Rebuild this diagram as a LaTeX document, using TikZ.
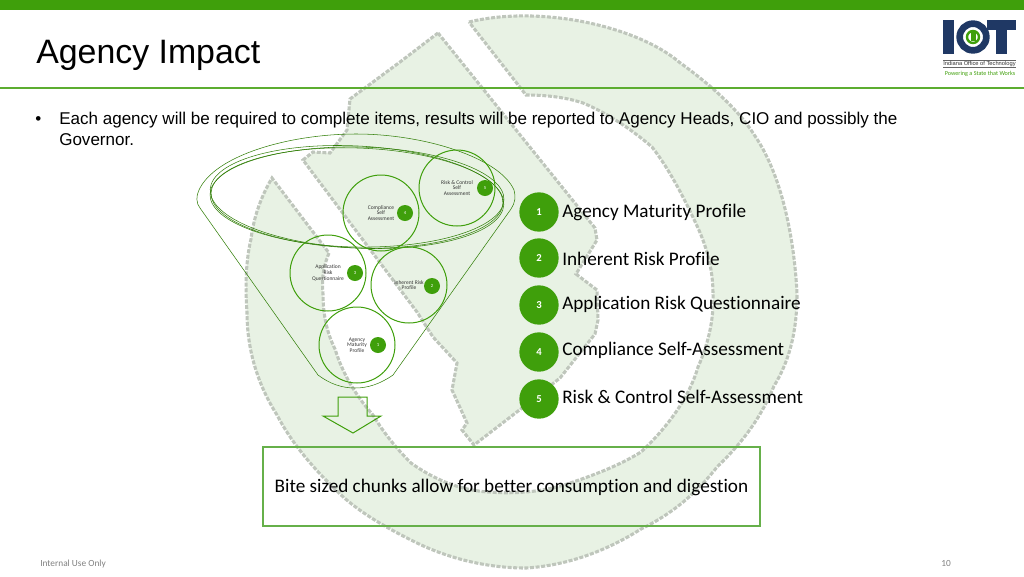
\documentclass[tikz,border=0pt]{standalone}
\usepackage{fontspec}
\setmainfont{Liberation Sans}
\newfontfamily\calibrifont[Ligatures=NoCommon]{Carlito}
\usetikzlibrary{positioning}

\definecolor{iotgreen}{HTML}{3F9F0B}
\definecolor{iotline}{HTML}{66B04A}
\definecolor{iotblue}{HTML}{1F3864}
\definecolor{iotwash}{HTML}{E8F2E4}
\definecolor{iotedge}{HTML}{BFC6BC}

\tikzset{
	bigstep/.style={circle, fill=iotgreen, text=white, inner sep=0pt, minimum size=29.5pt, font=\calibrifont\bfseries\fontsize{8}{9}\selectfont},
	smallstep/.style={circle, fill=iotgreen, text=white, inner sep=0pt, minimum size=12pt, font=\calibrifont\fontsize{3.5}{4}\selectfont},
	ring/.style={circle, draw=iotgreen, line width=0.75pt, inner sep=0pt, minimum size=57pt},
	ringtext/.style={align=center, inner sep=0pt, text=black!80, font=\calibrifont\fontsize{4.15}{4.3}\selectfont},
	steplabel/.style={anchor=west, inner sep=0pt, font=\calibrifont\fontsize{14.4}{16}\selectfont},
	wash/.style={fill=iotwash, draw=iotedge, line width=2.3pt, dash pattern=on 3pt off 1.2pt},
	thin green/.style={draw=iotgreen!80!black, line width=0.4pt}
}

\begin{document}
\begin{tikzpicture}[x=0.75pt, y=-0.75pt]
	\useasboundingbox (0,0) rectangle (1024,576);

	% watermark
	\draw[wash] (469,22) .. controls (510,12) and (560,15) .. (602,26)
		.. controls (640,36) and (665,50) .. (679,62)
		.. controls (715,88) and (740,112) .. (755,136)
		.. controls (785,180) and (795,250) .. (797,294)
		.. controls (797,330) and (790,360) .. (774,386)
		.. controls (760,420) and (740,445) .. (717,467)
		.. controls (695,495) and (670,515) .. (641,529)
		.. controls (600,555) and (560,566) .. (526,568)
		.. controls (480,568) and (440,555) .. (411,540)
		.. controls (385,527) and (355,510) .. (335,489)
		.. controls (310,465) and (290,440) .. (277,415)
		.. controls (255,380) and (247,345) .. (247,312)
		.. controls (245,285) and (246,260) .. (251,239)
		.. controls (254,215) and (262,195) .. (272,178)
		-- (329,253)
		.. controls (322,270) and (322,282) .. (323,294)
		.. controls (323,315) and (327,333) .. (335,349)
		.. controls (343,375) and (357,397) .. (373,415)
		.. controls (385,435) and (398,450) .. (411,463)
		.. controls (435,480) and (460,490) .. (488,492)
		.. controls (515,494) and (540,492) .. (564,485)
		.. controls (595,475) and (620,465) .. (641,452)
		.. controls (670,425) and (690,395) .. (698,367)
		.. controls (710,340) and (714,315) .. (713,294)
		.. controls (713,270) and (707,248) .. (698,228)
		.. controls (685,200) and (670,170) .. (652,147)
		.. controls (630,128) and (605,112) .. (583,103)
		.. controls (565,97) and (545,95) .. (526,95)
		-- cycle;
	\draw[wash] (438,33) -- (595,228) -- (597,240) -- (576,274) -- (597,290)
		-- (598,320) -- (595,334) -- (560,378) -- (522,408) -- (474,445)
		-- (462,430) -- (467,423) -- (452,390) -- (457,363) -- (433,337)
		-- (417,312) -- (303,160) -- (313,152) -- (330,153) -- (347,130)
		-- (350,99) -- (400,62) -- cycle;

	% header
	\fill[iotgreen] (0,0) rectangle (1024,10);
	\fill[iotgreen!85] (0,87) rectangle (1024,89);
	\node[anchor=base west, inner sep=0pt, font=\fontsize{25.4}{28}\selectfont] (title) at (36,63) {Agency Impact};
	\node[anchor=base west, inner sep=0pt, font=\fontsize{12.78}{14}\selectfont] (bullet) at (35,124) {•};
	\node[anchor=base west, inner sep=0pt, font=\fontsize{12.78}{14}\selectfont] (lineone) at (59,124) {Each agency will be required to complete items, results will be reported to Agency Heads, CIO and possibly the};
	\node[anchor=base west, inner sep=0pt, font=\fontsize{12.78}{14}\selectfont] (linetwo) at (59,145) {Governor.};

	% logo
	\fill[iotblue] (943,20) rectangle (954,54);
	\node[circle, draw=iotblue, line width=5pt, fill=white, inner sep=0pt, minimum size=20pt] (logoO) at (973,37) {};
	\node[circle, draw=iotgreen, line width=1.8pt, fill=white, inner sep=0pt, minimum size=9pt] (logoI) at (973,37) {};
	\fill[iotgreen] (971,32) rectangle (976,41);
	\fill[iotblue] (987,20) rectangle (1016,30);
	\fill[iotblue] (996,30) rectangle (1007,54);
	\draw[black!60, line width=0.3pt] (943,60) -- (1016,60);
	\draw[black!60, line width=0.3pt] (943,67.5) -- (1016,67.5);
	\node[inner sep=0pt, text=black!80, font=\fontsize{4.3}{4}\selectfont] (logotext) at (979.5,64) {Indiana Office of Technology};
	\node[inner sep=0pt, text=iotgreen, font=\calibrifont\fontsize{4.6}{5}\selectfont] (logoline) at (980,74) {Powering a State that Works};

	% funnel
	\draw[thin green] (200,208) .. controls (196,203) and (196,196) .. (199,190)
		.. controls (215,155) and (290,134) .. (356,134)
		.. controls (425,134) and (500,158) .. (514,190)
		.. controls (516,197) and (515,203) .. (511,209)
		-- (393,375) .. controls (380,384) and (368,388) .. (355,388)
		.. controls (342,388) and (330,384) .. (318,375) -- cycle;
	\draw[thin green] (357,197) [rotate around={-3:(357,197)}] ellipse (147 and 51);
	\draw[thin green] (357,198) [rotate around={-2:(357,198)}] ellipse (146 and 50);
	\draw[thin green] (357,197) [rotate around={-1:(357,197)}] ellipse (147 and 50);

	% circles
	\begin{scope}[every node/.style={ring}]
		\node (riskring) at (457,188) {};
		\node (compring) at (381,213) {};
		\node (appring) at (328,273) {};
		\node (inhring) at (409,285) {};
		\node (matring) at (357,345) {};
	\end{scope}
	\node[ringtext] at (riskring) {Risk \& Control\\Self\\Assessment};
	\node[ringtext] at (compring) {Compliance\\Self\\Assessment};
	\node[ringtext] at (appring) {Application\\Risk\\Questionnaire};
	\node[ringtext] at (inhring) {Inherent Risk\\Profile};
	\node[ringtext] at (matring) {Agency\\Maturity\\Profile};

	\node[smallstep] (riskdot) at (485,188) {5};
	\node[smallstep] (compdot) at (405,213) {4};
	\node[smallstep] (appdot) at (355,273) {3};
	\node[smallstep] (inhdot) at (432,286) {2};
	\node[smallstep] (matdot) at (378,345) {1};

	% list
	\node[bigstep] (one) at (539,212) {1};
	\node[bigstep] (two) at (539,258) {2};
	\node[bigstep] (three) at (539,305) {3};
	\node[bigstep] (four) at (539,352) {4};
	\node[bigstep] (five) at (539,399) {5};
	\node[steplabel] at (562,212.5) {Agency Maturity Profile};
	\node[steplabel] at (562,258.5) {Inherent Risk Profile};
	\node[steplabel] at (562,304.5) {Application Risk Questionnaire};
	\node[steplabel] at (562,350.5) {Compliance Self-Assessment};
	\node[steplabel] at (562,396.5) {Risk \& Control Self-Assessment};

	% arrow and box
	\draw[draw=iotgreen, line width=0.75pt] (338,397) -- (367,397) -- (367,416) -- (381,416) -- (353,433) -- (323,416) -- (338,416) -- cycle;
	\draw[draw=iotline, line width=0.8pt] (263,447) rectangle (760,526);
	\node[inner sep=0pt, font=\calibrifont\fontsize{14.4}{16}\selectfont] (chunks) at (511.5,487.5) {Bite sized chunks allow for better consumption and digestion};

	% footer
	\node[anchor=west, inner sep=0pt, text=black!50, font=\calibrifont\fontsize{7}{8}\selectfont] (internal) at (40,563.5) {Internal Use Only};
	\node[inner sep=0pt, text=black!50, font=\calibrifont\fontsize{7}{8}\selectfont] (pagenum) at (946,563.5) {10};
\end{tikzpicture}
\end{document}
